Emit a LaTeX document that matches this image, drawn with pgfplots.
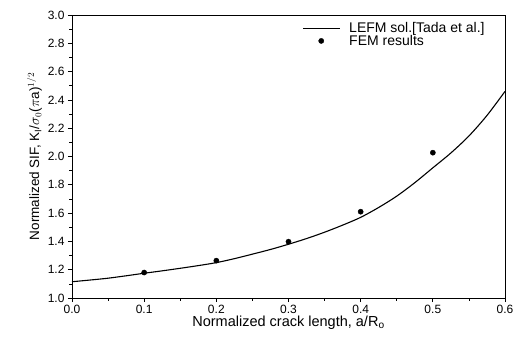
\documentclass[border=0pt]{standalone}
\usepackage{fontspec}
\setmainfont{Liberation Sans}
\usepackage{pgfplots}
\pgfplotsset{compat=1.18}
\begin{document}
\begin{tikzpicture}
\useasboundingbox (-72pt,-43pt) rectangle (444pt,298pt);
\begin{axis}[
  at={(0pt,0pt)}, anchor=south west,
  scale only axis, width=433pt, height=283pt,
  xmin=0, xmax=0.6, ymin=1.0, ymax=3.0,
  xtick={0,0.1,...,0.6}, ytick={1.0,1.2,...,3.0},
  minor x tick num=1, minor y tick num=1,
  xticklabel style={/pgf/number format/.cd,fixed,fixed zerofill,precision=1},
  yticklabel style={/pgf/number format/.cd,fixed,fixed zerofill,precision=1},
  /pgf/number format/assume math mode=true,
  tick label style={font=\fontsize{12}{13}\selectfont},
  tick align=outside, major tick length=4pt, minor tick length=2.5pt,
  xtick pos=bottom, ytick pos=left,
  axis line style={line width=0.9pt},
  tick style={black, line width=0.7pt},
  xlabel={Normalized crack length, a/R$_{\mathrm{o}}$},
  ylabel={Normalized SIF, K$_{\mathrm{I}}$/$\sigma_0$($\pi$a)$^{1/2}$},
  xlabel style={font=\fontsize{14.5}{16}\selectfont, yshift=5pt},
  ylabel style={font=\fontsize{13.5}{15}\selectfont, yshift=-1pt},
  legend style={draw=none, fill=none, at={(0.53,0.985)}, anchor=north west,
    font=\fontsize{14}{15}\selectfont, row sep=-3pt, inner sep=1pt},
  legend cell align=left,
  legend image code/.code={\draw[#1] (0pt,0pt) -- (37pt,0pt); \path[draw=none,fill=none] (0pt,0pt) -- (44pt,0pt);},
]
\addplot[black, line width=1.1pt, smooth] coordinates {
(0,1.115) (0.025,1.127) (0.05,1.14) (0.075,1.157) (0.1,1.175) (0.125,1.192)
(0.15,1.21) (0.175,1.229) (0.2,1.25) (0.225,1.278) (0.25,1.31) (0.275,1.343)
(0.3,1.38) (0.325,1.42) (0.35,1.465) (0.375,1.515) (0.4,1.57) (0.425,1.64)
(0.45,1.72) (0.475,1.815) (0.5,1.92) (0.525,2.025) (0.55,2.145) (0.575,2.29)
(0.6,2.46)};
\addlegendentry{LEFM sol.[Tada et al.]}
\addplot[only marks, mark=*, mark size=2.6pt, black,
  legend image code/.code={\path[draw=none,fill=none] (0pt,0pt) -- (44pt,0pt); \fill (18pt,0pt) circle[radius=2.6pt];}] coordinates {
(0.1,1.18) (0.2,1.264) (0.3,1.398) (0.4,1.61) (0.5,2.027)};
\addlegendentry{FEM results}
\end{axis}
\end{tikzpicture}
\end{document}
